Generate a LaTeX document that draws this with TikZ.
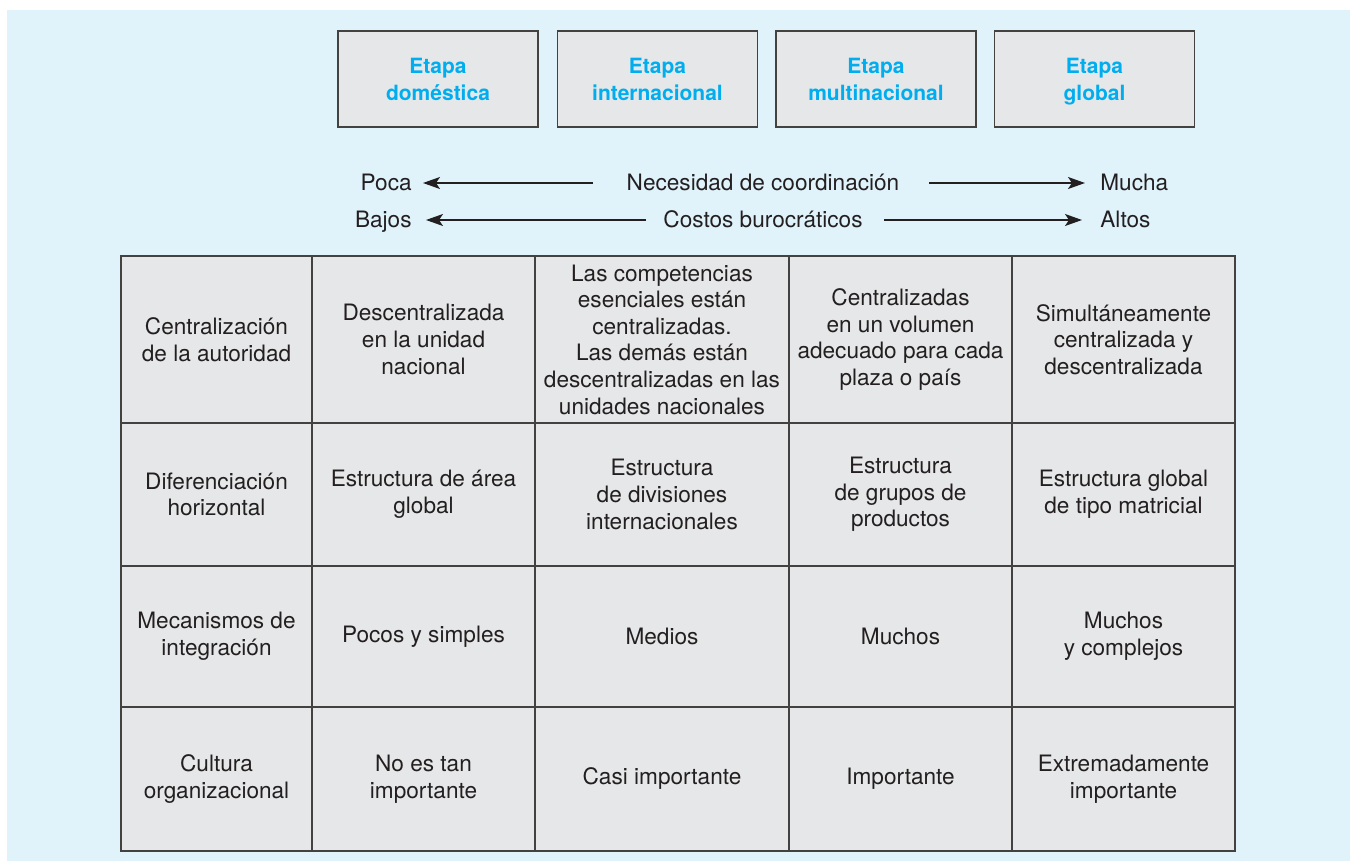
\documentclass[tikz,border=0pt]{standalone}
\usepackage{fontspec}
\setmainfont{TeX Gyre Heros}
\usepackage{xcolor}
\usepackage{tikz}
\usetikzlibrary{arrows.meta,calc}

\definecolor{bgblue}{HTML}{E0F3FB}
\definecolor{cellgray}{HTML}{E6E7E8}
\definecolor{stagecyan}{HTML}{00AEEF}
\definecolor{ink}{HTML}{231F20}

\tikzset{
    cell/.style={draw=ink!85, line width=0.6pt, fill=cellgray, align=center, inner sep=0pt, text=ink, font=\fontsize{11.3}{13.3}\selectfont},
    stagebox/.style={cell, text=stagecyan, text depth=0pt, font=\fontsize{10.5}{13.5}\selectfont\bfseries, minimum width=100pt, minimum height=48pt},
    scalelabel/.style={text=ink, inner ysep=0pt, text height=8pt, text depth=0pt, font=\fontsize{11.3}{13.3}\selectfont},
    scalearrow/.style={-{Stealth[length=8.5pt,width=6pt,inset=2pt]}, line width=0.7pt, draw=ink}
}

\begin{document}
\begin{tikzpicture}[x=0.5pt, y=-0.5pt]
    \useasboundingbox (0, 0) rectangle (1350, 861);
    \fill [bgblue] (7, 10) rectangle (1350, 861);
    \foreach \name/\x/\txt in {dom/438/{Etapa\\doméstica}, int/657.5/{Etapa\\internacional}, mul/876/{Etapa\\multinacional}, glo/1094.5/{Etapa\\global}}{
        \node [stagebox] (\name) at (\x, 79) {\txt};
    }
    \node [scalelabel, anchor=east, inner xsep=5.5pt] (poca) at (423, 183) {Poca};
    \node [scalelabel] (coord) at (763, 183) {Necesidad de coordinación};
    \node [scalelabel, anchor=west, inner xsep=7.5pt] (mucha) at (1085, 183) {Mucha};
    \node [scalelabel, anchor=east, inner xsep=7pt] (bajos) at (426, 220) {Bajos};
    \node [scalelabel] (costos) at (763, 220) {Costos burocráticos};
    \node [scalelabel, anchor=west, inner xsep=9pt] (altos) at (1082, 220) {Altos};
    \coordinate (coordL) at (593, 183);
    \coordinate (coordR) at (929, 183);
    \coordinate (costosL) at (646, 220);
    \coordinate (costosR) at (884, 220);
    \draw [scalearrow] (coordL) -- (poca.east);
    \draw [scalearrow] (coordR) -- (mucha.west);
    \draw [scalearrow] (costosL) -- (bajos.east);
    \draw [scalearrow] (costosR) -- (altos.west);
    \foreach \x/\w/\txt [count=\j] in {216.5/95.5/{Centralización\\de la autoridad}, 423.5/111.5/{Descentralizada\\en la unidad\\nacional}, 662/127/{Las competencias\\esenciales están\\centralizadas.\\Las demás están\\descentralizadas en las\\unidades nacionales}, 900.5/111.5/{Centralizadas\\en un volumen\\adecuado para cada\\plaza o país}, 1123.5/111.5/{Simultáneamente\\centralizada y\\descentralizada}}{
        \node [cell, minimum width=\w pt, minimum height=83.5pt] (r1c\j) at (\x, 339.5) {\txt};
    }
    \foreach \x/\w/\txt [count=\j] in {216.5/95.5/{Diferenciación\\horizontal}, 423.5/111.5/{Estructura de área\\global}, 662/127/{Estructura\\de divisiones\\internacionales}, 900.5/111.5/{Estructura\\de grupos de\\productos}, 1123.5/111.5/{Estructura global\\de tipo matricial}}{
        \node [cell, minimum width=\w pt, minimum height=71.5pt] (r2c\j) at (\x, 494.5) {\txt};
    }
    \foreach \x/\w/\txt [count=\j] in {216.5/95.5/{Mecanismos de\\integración}, 423.5/111.5/{Pocos y simples}, 662/127/{Medios}, 900.5/111.5/{Muchos}, 1123.5/111.5/{Muchos\\y complejos}}{
        \node [cell, minimum width=\w pt, minimum height=70.5pt] (r3c\j) at (\x, 636.5) {\txt};
    }
    \foreach \x/\w/\txt [count=\j] in {216.5/95.5/{Cultura\\organizacional}, 423.5/111.5/{No es tan\\importante}, 662/127/{Casi importante}, 900.5/111.5/{Importante}, 1123.5/111.5/{Extremadamente\\importante}}{
        \node [cell, minimum width=\w pt, minimum height=72pt] (r4c\j) at (\x, 779) {\txt};
    }
\end{tikzpicture}
\end{document}
